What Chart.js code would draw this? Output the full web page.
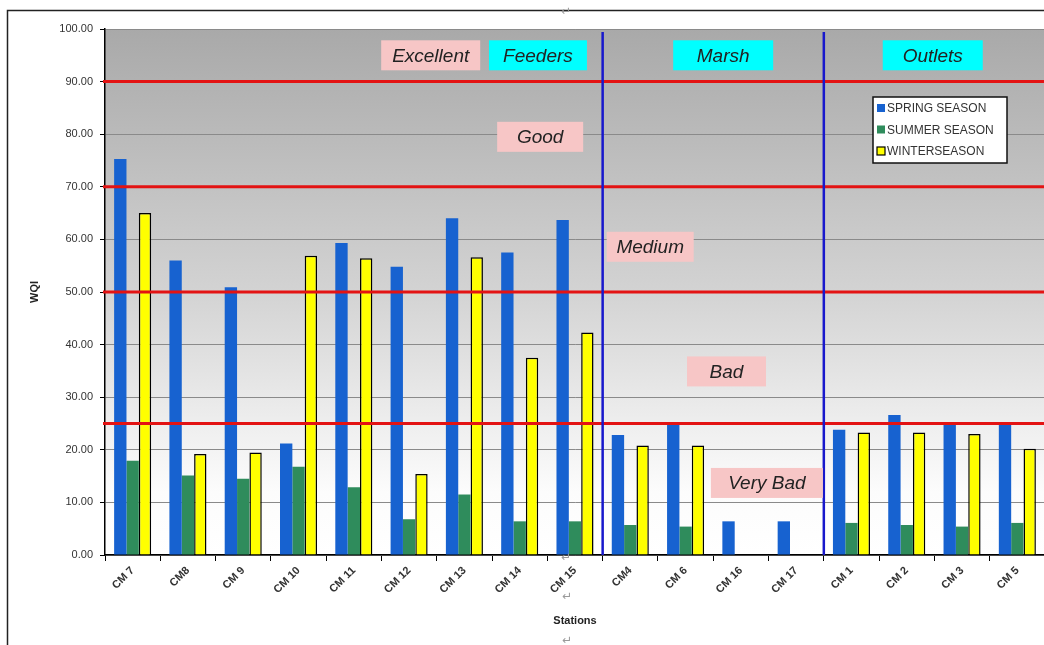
<!DOCTYPE html>
<html>
<head>
<meta charset="utf-8">
<script src="https://cdn.jsdelivr.net/npm/chart.js@4.4.0/dist/chart.umd.min.js"></script>
<style>
html, body { margin: 0; padding: 0; background: #fff; overflow: hidden; }
canvas { display: block; }
</style>
</head>
<body>
<canvas id="wqiChart" width="1050" height="645"></canvas>
<script>
// station names along the x axis
var stations = ['CM 7', 'CM8', 'CM 9', 'CM 10', 'CM 11', 'CM 12', 'CM 13', 'CM 14', 'CM 15',
                'CM4', 'CM 6', 'CM 16', 'CM 17', 'CM 1', 'CM 2', 'CM 3', 'CM 5'];
// WQI per season
var spring = [75.3, 56.0, 50.9, 21.2, 59.3, 54.8, 64.0, 57.5, 63.7, 22.8, 24.9, 6.4, 6.4, 23.8, 26.6, 25.3, 25.3];
var summer = [17.9, 15.1, 14.5, 16.8, 12.9, 6.8, 11.5, 6.4, 6.4, 5.7, 5.4, null, null, 6.1, 5.7, 5.4, 6.1];
var winter = [65.0, 19.2, 19.5, 56.9, 56.4, 15.4, 56.6, 37.5, 42.3, 20.8, 20.8, null, null, 23.3, 23.3, 23.0, 20.2];
var seasonNames = ['SPRING SEASON', 'SUMMER SEASON', 'WINTERSEASON'];
// class limits (red lines) and group breaks (blue lines, after station index)
var classLimits = [25, 50, 70, 90];
var groupBreaks = [8, 12];
var classNames = ['Excellent', 'Good', 'Medium', 'Bad', 'Very Bad'];
var groupNames = ['Feeders', 'Marsh', 'Outlets'];

// where the text boxes sit (category index, WQI value) and box width
var classSpots = [[5.39, 95, 99], [7.37, 79.5, 86], [9.36, 58.6, 87], [10.74, 34.9, 79], [11.47, 13.7, 112]];
var groupSpots = [[7.33, 95, 98], [10.68, 95, 100], [14.47, 95, 100]];

function note(ctx, chart, txt, spot, bg) {
  var x = chart.scales.x.getPixelForValue(spot[0]);
  var y = chart.scales.y.getPixelForValue(spot[1]);
  ctx.fillStyle = bg;
  ctx.fillRect(x - spot[2] / 2, y - 15, spot[2], 30);
  ctx.fillStyle = '#222';
  ctx.font = 'italic 19px "Liberation Sans", Arial, sans-serif';
  ctx.textAlign = 'center';
  ctx.textBaseline = 'middle';
  ctx.fillText(txt, x, y + 1);
}

var decor = {
  id: 'decor',
  beforeDraw: function(chart) {
    var c = chart.ctx, a = chart.chartArea;
    c.save();
    var g = c.createLinearGradient(0, a.top, 0, a.bottom);
    g.addColorStop(0, '#a9a9a9');
    g.addColorStop(0.5, '#d3d3d3');
    g.addColorStop(0.88, '#fcfcfc');
    g.addColorStop(1, '#ffffff');
    c.fillStyle = g;
    c.fillRect(a.left, a.top, a.right - a.left, a.bottom - a.top);
    // page frame
    c.strokeStyle = '#222';
    c.lineWidth = 1.5;
    c.beginPath();
    c.moveTo(7.5, 645); c.lineTo(7.5, 10.5); c.lineTo(1050, 10.5);
    c.stroke();
    c.restore();
  },
  afterDatasetsDraw: function(chart) {
    var c = chart.ctx, a = chart.chartArea, xs = chart.scales.x, ys = chart.scales.y;
    c.save();
    // class limits
    c.strokeStyle = '#e31313';
    c.lineWidth = 3;
    classLimits.forEach(function(v) {
      var y = ys.getPixelForValue(v);
      c.beginPath(); c.moveTo(a.left - 2, y); c.lineTo(a.right, y); c.stroke();
    });
    // group separators
    c.strokeStyle = '#1818cc';
    c.lineWidth = 2.5;
    groupBreaks.forEach(function(i) {
      var x = (xs.getPixelForValue(i) + xs.getPixelForValue(i + 1)) / 2;
      c.beginPath(); c.moveTo(x, a.top + 3); c.lineTo(x, a.bottom); c.stroke();
    });
    // text boxes
    classNames.forEach(function(t, i) { note(c, chart, t, classSpots[i], '#f7c6c6'); });
    groupNames.forEach(function(t, i) { note(c, chart, t, groupSpots[i], '#00ffff'); });
    // legend
    var lx = 873, ly = 97;
    c.fillStyle = '#fff';
    c.fillRect(lx, ly, 134, 66);
    c.strokeStyle = '#111';
    c.lineWidth = 1.5;
    c.strokeRect(lx, ly, 134, 66);
    c.font = '12px "Liberation Sans", Arial, sans-serif';
    c.textAlign = 'left';
    c.textBaseline = 'middle';
    chart.data.datasets.forEach(function(ds, i) {
      var ry = ly + 11 + i * 21.5;
      c.fillStyle = ds.backgroundColor;
      c.fillRect(lx + 4, ry - 4, 8, 8);
      if (ds.borderWidth) {
        c.strokeStyle = '#000';
        c.lineWidth = 1.2;
        c.strokeRect(lx + 4, ry - 4, 8, 8);
      }
      c.fillStyle = '#333';
      c.fillText(ds.label, lx + 14, ry + 1);
    });
    // stray paragraph marks from the source document
    c.fillStyle = '#9a9a9a';
    c.font = '12px "DejaVu Sans", sans-serif';
    c.textAlign = 'center';
    c.fillText('\u21b5', 566, 12);
    c.fillText('\u21b5', 566, 558);
    c.fillText('\u21b5', 567, 597);
    c.fillText('\u21b5', 567, 641);
    c.restore();
  }
};

var ctx = document.getElementById('wqiChart').getContext('2d');
var wqiChart = new Chart(ctx, {
  type: 'bar',
  data: {
    labels: stations,
    datasets: [{
      label: seasonNames[0],
      data: spring,
      backgroundColor: '#1762d0',
      borderWidth: 0
    }, {
      label: seasonNames[1],
      data: summer,
      backgroundColor: '#2f8c5c',
      borderWidth: 0
    }, {
      label: seasonNames[2],
      data: winter,
      backgroundColor: '#ffff00',
      borderColor: '#000',
      borderWidth: 1.5
    }]
  },
  options: {
    responsive: false,
    animation: false,
    categoryPercentage: 0.67,
    barPercentage: 1.0,
    layout: { padding: { left: 24, top: 29, right: 5, bottom: 13 } },
    plugins: { legend: { display: false }, tooltip: { enabled: false } },
    scales: {
      x: {
        afterFit: function(s) { s.height = 77; },
        grid: { drawOnChartArea: false, offset: true, tickColor: '#000', tickLength: 6 },
        border: { color: '#000', width: 1.5 },
        ticks: {
          autoSkip: false, maxRotation: 45, minRotation: 45, padding: 3,
          color: '#333', font: { family: '"Liberation Sans", Arial', size: 11, weight: 'bold' }
        },
        title: {
          display: true, text: 'Stations', color: '#222', padding: 4,
          font: { family: '"Liberation Sans", Arial', size: 11, weight: 'bold' }
        }
      },
      y: {
        min: 0, max: 100,
        afterFit: function(s) { s.width = 81; },
        grid: { color: '#8a8a8a', tickColor: '#000', tickLength: 5 },
        border: { color: '#000', width: 1.5 },
        ticks: {
          stepSize: 10, padding: 7, color: '#333',
          font: { family: '"Liberation Sans", Arial', size: 11 },
          callback: function(v) { return v.toFixed(2); }
        },
        title: {
          display: true, text: 'WQI', color: '#222', padding: 4,
          font: { family: '"Liberation Sans", Arial', size: 11, weight: 'bold' }
        }
      }
    }
  },
  plugins: [decor]
});
</script>
</body>
</html>
